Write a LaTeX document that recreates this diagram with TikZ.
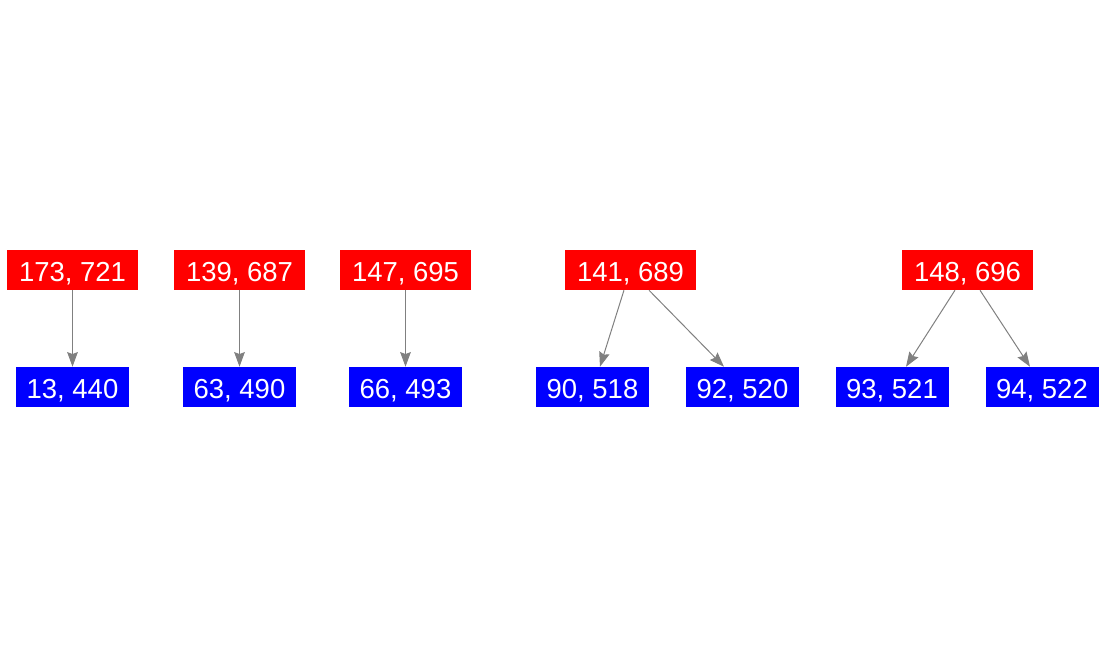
\documentclass[tikz,border=0pt]{standalone}
\usepackage{fontspec}
\setmainfont{Liberation Sans}
\usepackage{tikz}
\usetikzlibrary{arrows.meta}

\begin{document}
\begin{tikzpicture}[
  x=0.75pt, y=-0.75pt,
  rbox/.style={fill=red, text=white, minimum width=98.25pt, minimum height=30pt, inner sep=0pt, text height=17.8pt, text depth=0pt, font=\fontsize{20.6}{24}\selectfont},
  bbox/.style={rbox, fill=blue, minimum width=84.75pt},
  arrow/.style={-{Stealth[length=11pt, width=8pt, inset=1.5pt]}, draw=gray, line width=0.75pt}
]
  \useasboundingbox (0,0) rectangle (1108,656);

  \node[rbox] (top1) at (72.5,270) {173, 721};
  \node[rbox] (top2) at (239.5,270) {139, 687};
  \node[rbox] (top3) at (405.5,270) {147, 695};
  \node[rbox] (top4) at (630.5,270) {141, 689};
  \node[rbox] (top5) at (967.5,270) {148, 696};

  \node[bbox] (leaf1) at (72.5,387) {13, 440};
  \node[bbox] (leaf2) at (239.5,387) {63, 490};
  \node[bbox] (leaf3) at (405.5,387) {66, 493};
  \node[bbox] (leaf4) at (592.5,387) {90, 518};
  \node[bbox] (leaf5) at (742.5,387) {92, 520};
  \node[bbox] (leaf6) at (892,387) {93, 521};
  \node[bbox] (leaf7) at (1042,387) {94, 522};

  \draw[arrow] (top1) -- (leaf1);
  \draw[arrow] (top2) -- (leaf2);
  \draw[arrow] (top3) -- (leaf3);
  \draw[arrow] ([xshift=-4.9pt]top4.south) -- ([xshift=5.6pt]leaf4.north);
  \draw[arrow] ([xshift=13.9pt]top4.south) -- ([xshift=-13.9pt]leaf5.north);
  \draw[arrow] ([xshift=-9.4pt]top5.south) -- ([xshift=10.5pt]leaf6.north);
  \draw[arrow] ([xshift=9.4pt]top5.south) -- ([xshift=-9pt]leaf7.north);
\end{tikzpicture}
\end{document}
